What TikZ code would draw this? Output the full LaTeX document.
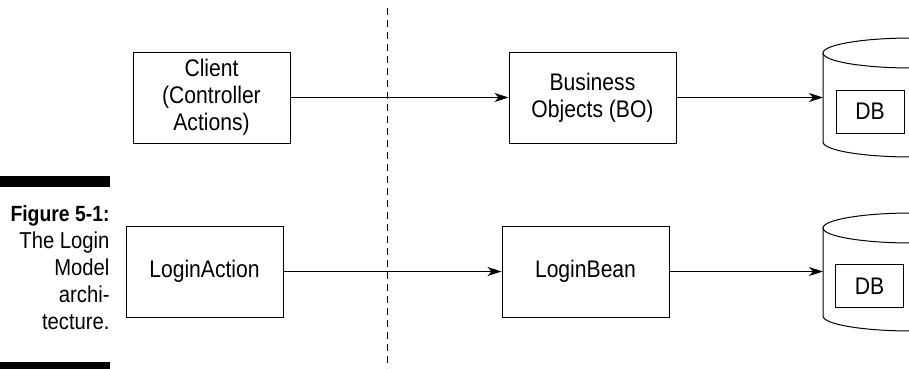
\documentclass[tikz,border=0pt]{standalone}
\usepackage{fontspec}
\setmainfont[FakeStretch=0.88]{Liberation Sans}
\usepackage{tikz}
\usetikzlibrary{arrows,arrows.meta,positioning}
\tikzset{
  blk_box/.style = {draw=black, line width=1pt, rectangle, align=center,
    inner sep=0pt, minimum height=91pt, font=\fontsize{24}{27}\selectfont},% boite du schema
  db_box/.style = {draw=black, line width=1pt, rectangle, inner sep=0pt,
    minimum width=68pt, minimum height=43pt, font=\fontsize{24}{27}\selectfont},% boite DB
  cap_txt/.style = {align=right, inner sep=0pt,
    font=\fontsize{23}{27}\selectfont}% legende
}

\begin{document}
\begin{tikzpicture}[x=1pt,y=-1pt,>={Stealth[length=14pt,width=9pt,inset=4pt]},line width=1pt]
        \clip (0,0) rectangle (909,368);

        \node [blk_box, minimum width=157pt](Client) at (211.5,97.5){Client\\(Controller\\Actions)};
        \node [blk_box, minimum width=167pt, right= 218pt of Client](BO){Business\\Objects (BO)};
        \node [blk_box, minimum width=157pt](LA) at (204.5,271.5){LoginAction};
        \node [blk_box, minimum width=167pt, right= 218pt of LA](LB){LoginBean};

        % cylindres
        \draw (912,53) ellipse [x radius=89pt, y radius=15pt];
        \draw (823,53) -- (823,142) arc [start angle=180, end angle=360, x radius=89pt, y radius=15pt];
        \draw (912,228) ellipse [x radius=89pt, y radius=15pt];
        \draw (823,228) -- (823,316) arc [start angle=180, end angle=360, x radius=89pt, y radius=15pt];
        \coordinate (cylA) at (823,97.5);
        \coordinate (cylB) at (823,271.5);
        \node [db_box](DB1) at (870,111.5){DB};
        \node [db_box](DB2) at (869.5,286){DB};

        \coordinate (divT) at (387,8);
        \coordinate (divB) at (387,368);
        \draw [dash pattern=on 7pt off 5pt] (divT) -- (divB);

        \draw [->] (Client) -- (BO);
        \draw [->] (BO) -- (cylA);
        \draw [->] (LA) -- (LB);
        \draw [->] (LB) -- (cylB);

        % legende
        \fill (0,176) rectangle (110,187);
        \fill (0,362) rectangle (110,372);
        \node [cap_txt, anchor=base east](Cap) at (110,329){{\fontsize{22}{27}\selectfont\bfseries Figure 5-1:}\\The Login\\Model\\archi-\\tecture.};

        \end{tikzpicture}
\end{document}
